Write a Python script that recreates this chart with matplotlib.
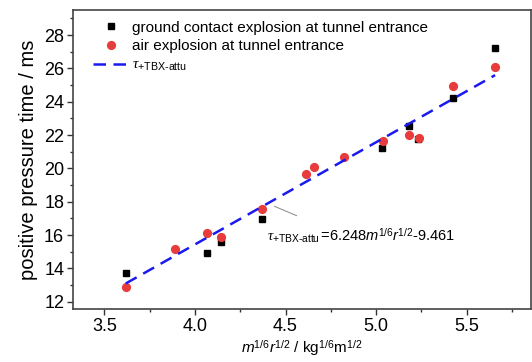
"""Positive pressure time vs scaled distance, ground vs air explosion at tunnel entrance."""
import matplotlib

matplotlib.use("Agg")
import matplotlib.pyplot as plt
from matplotlib.ticker import MultipleLocator, FormatStrFormatter

# ground contact explosion at tunnel entrance
ground_x = [3.618, 4.065, 4.144, 4.370, 5.032, 5.180, 5.233, 5.426, 5.657]
ground_y = [13.70, 14.90, 15.60, 16.98, 21.20, 22.54, 21.74, 24.22, 27.22]

# air explosion at tunnel entrance
air_x = [3.618, 3.888, 4.065, 4.144, 4.370, 4.611, 4.657, 4.825, 5.036, 5.180, 5.237, 5.426, 5.657]
air_y = [12.88, 15.16, 16.14, 15.86, 17.58, 19.64, 20.10, 20.66, 21.64, 22.00, 21.82, 24.96, 26.08]

# fitted line end points
fit_x = [3.618, 5.657]
fit_y = [13.10, 25.60]

plt.rcParams["font.family"] = ["Liberation Sans", "DejaVu Sans"]
plt.rcParams["mathtext.fontset"] = "custom"
plt.rcParams["mathtext.rm"] = "Liberation Sans"
plt.rcParams["mathtext.it"] = "Liberation Serif:italic"   # greek tau
plt.rcParams["mathtext.sf"] = "Liberation Sans:italic"    # italic m, r

fig = plt.figure(figsize=(5.32, 3.62), dpi=100)
ax = fig.add_axes([0.137, 0.146, 0.861, 0.826])

ax.plot(ground_x, ground_y, "s", color="black", ms=4.8,
        label="ground contact explosion at tunnel entrance")
ax.plot(air_x, air_y, "o", color="#e83c3c", ms=5.6,
        label="air explosion at tunnel entrance")
ax.plot(fit_x, fit_y, color="#1a1aee", lw=1.8, dashes=(5, 3),
        label=r"$\tau_{\text{+TBX-attu}}$")

ax.set_xlim(3.326, 5.855)
ax.set_ylim(11.56, 29.5)
ax.xaxis.set_major_locator(MultipleLocator(0.5))
ax.xaxis.set_minor_locator(MultipleLocator(0.25))
ax.yaxis.set_major_locator(MultipleLocator(2))
ax.yaxis.set_minor_locator(MultipleLocator(1))
ax.xaxis.set_major_formatter(FormatStrFormatter("%.1f"))
ax.tick_params(which="major", direction="out", length=4.3, width=1, labelsize=13, pad=2, color="#333333")
ax.tick_params(which="minor", direction="out", length=2.2, width=1, color="#333333")
for s in ax.spines.values():
    s.set_color("#444444")
    s.set_linewidth(1.2)

ax.set_xlabel(r"$\mathsf{m}^{\text{1/6}}\mathsf{r}^{\text{1/2}}\text{ / kg}^{\text{1/6}}\text{m}^{\text{1/2}}$",
              fontsize=11, labelpad=3)
ax.set_ylabel("positive pressure time / ms", fontsize=14.5, labelpad=4)

ax.annotate("", xy=(4.424, 17.80), xytext=(4.576, 17.10),
            arrowprops=dict(arrowstyle="-", color="#888888", lw=0.7))
ax.text(4.40, 15.9,
        r"$\tau_{\text{+TBX-attu}}\,\text{=6.248}\mathsf{m}^{\text{1/6}}\mathsf{r}^{\text{1/2}}\text{-9.461}$",
        fontsize=10.5, ha="left", va="center")

ax.legend(loc="upper left", bbox_to_anchor=(0.02, 1.0), frameon=False, fontsize=11,
          handlelength=2.35, handletextpad=0.2, labelspacing=0.3, borderaxespad=0.3)

fig.savefig("out.png", dpi=100)
